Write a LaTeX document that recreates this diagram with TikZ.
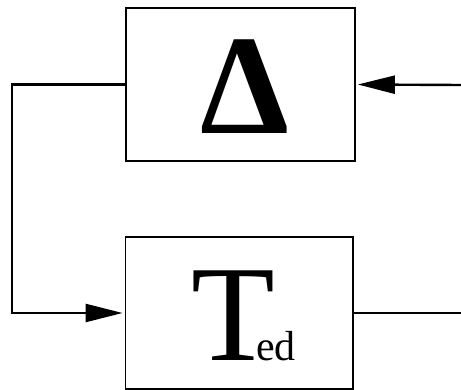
\documentclass[tikz,border=0pt]{standalone}
\usepackage{fontspec}
\setmainfont{Liberation Serif}
\usetikzlibrary{arrows.meta}
\begin{document}
\begin{tikzpicture}[x=1pt,y=-1pt,
  blockbox/.style={draw,line width=1.8pt,inner sep=0pt},
  conn/.style={line width=2.4pt},
  arr/.style={conn,-{Triangle[length=37pt,width=18pt]}}]
\useasboundingbox (0,0) rectangle (461,390);
\node[blockbox,minimum width=229pt,minimum height=153pt] (top) at (240.5,84.5) {};
\node[blockbox,minimum width=227.5pt,minimum height=152pt] (bot) at (239.25,313) {};
\node[inner sep=0pt,anchor=base,font=\fontsize{142}{142}\selectfont\bfseries] (delta) at (245.5,134) {Δ};
\node[inner sep=0pt,anchor=base west,font=\fontsize{137}{137}\selectfont] (T) at (191.7,360) {T};
\node[inner sep=0pt,anchor=base west,font=\fontsize{42}{42}\selectfont] (ed) at (256,360) {ed};
\coordinate (lc) at (12,84.5);
\coordinate (rin) at (461,85);
\coordinate (rout) at (461,313);
\draw[arr,shorten >=2pt] (top.west) -- (lc) |- (bot.west);
\draw[arr,shorten >=2pt] (rin) -- (top.east);
\draw[conn] (bot.east) -- (rout);
\end{tikzpicture}
\end{document}
